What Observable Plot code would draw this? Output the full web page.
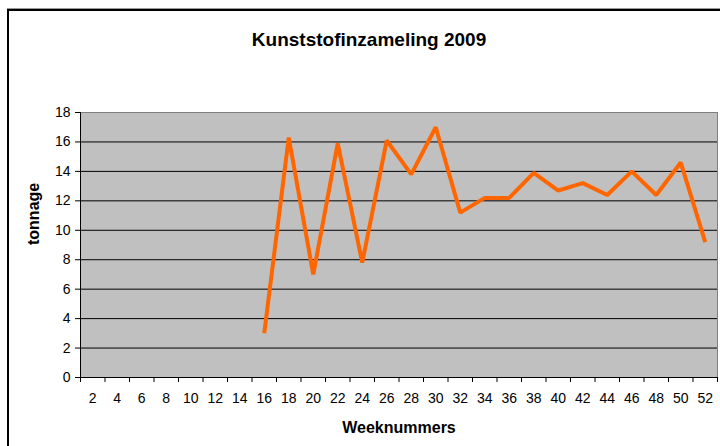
<!DOCTYPE html>
<html>
<head>
<meta charset="utf-8">
<script src="https://cdn.jsdelivr.net/npm/d3@7"></script>
<script src="https://cdn.jsdelivr.net/npm/@observablehq/plot@0.6"></script>
<style>
  html, body { margin: 0; padding: 0; background: #ffffff; }
  #wrap { position: relative; width: 720px; height: 446px; overflow: hidden; background: #fff; }
  #border { position: absolute; left: 7px; top: 9px; width: 720px; height: 446px;
            border-left: 2px solid #000; border-top: 2px solid #000; box-shadow: 0 -1px 0 #999; }
  #chart { position: absolute; left: 0; top: 0; }
  svg { font-family: "Liberation Sans", Arial, sans-serif; }
</style>
</head>
<body>
<div id="wrap"><div id="border"></div><div id="chart"></div></div>
<script>
const title = "Kunststofinzameling 2009";
const xLabel = "Weeknummers";
const yLabel = "tonnage";
const weeks = [2,4,6,8,10,12,14,16,18,20,22,24,26,28,30,32,34,36,38,40,42,44,46,48,50,52];
const dataWeeks = [16,18,20,22,24,26,28,30,32,34,36,38,40,42,44,46,48,50,52];
const tonnage = [3.0,16.3,7.0,15.9,7.8,16.1,13.8,17.0,11.2,12.2,12.2,13.9,12.7,13.2,12.4,14.0,12.4,14.6,9.2];
const yTicks = [0,2,4,6,8,10,12,14,16,18];

const data = dataWeeks.map((w, i) => ({week: w, tonnage: tonnage[i]}));
const step = weeks[1] - weeks[0];
const xDomain = [weeks[0] - step / 2, weeks[weeks.length - 1] + step / 2];
const boundaries = [...weeks.map(w => w - step / 2), weeks[weeks.length - 1] + step / 2];

const chart = Plot.plot({
  width: 720,
  height: 446,
  marginLeft: 80,
  marginRight: 3,
  marginTop: 112,
  marginBottom: 69,
  style: {fontFamily: '"Liberation Sans", Arial, sans-serif', background: "transparent", color: "#000"},
  x: {type: "linear", domain: xDomain, label: null},
  y: {domain: [yTicks[0], yTicks[yTicks.length - 1]], label: null},
  marks: [
    Plot.frame({fill: "#C0C0C0", stroke: "#808080"}),
    Plot.ruleY(yTicks.filter(v => v > yTicks[0] && v < yTicks[yTicks.length - 1]), {stroke: "#000", strokeWidth: 1}),
    Plot.ruleX([xDomain[0]], {stroke: "#000"}),
    Plot.ruleY([yTicks[0]], {stroke: "#000"}),
    Plot.axisY({ticks: yTicks, tickSize: 5, tickPadding: 5, fontSize: 14, label: null, stroke: "#000"}),
    Plot.axisX({ticks: boundaries, tickSize: 5, tickFormat: () => "", label: null, stroke: "#000"}),
    Plot.axisX({ticks: weeks, tickSize: 0, tickPadding: 16, fontSize: 14, label: null, tickFormat: d => String(d)}),
    Plot.line(data, {x: "week", y: "tonnage", stroke: "#FF6600", strokeWidth: 4, strokeLinejoin: "miter", strokeLinecap: "butt"}),
    Plot.text([yLabel], {frameAnchor: "left", dx: -47, rotate: -90, fontWeight: "bold", fontSize: 16}),
    Plot.text([xLabel], {frameAnchor: "bottom", dy: 50, lineAnchor: "middle", fontWeight: "bold", fontSize: 16}),
    Plot.text([title], {frameAnchor: "top", dx: -30, dy: -73, lineAnchor: "middle", fontWeight: "bold", fontSize: 19})
  ]
});
document.getElementById("chart").appendChild(chart);
</script>
</body>
</html>
